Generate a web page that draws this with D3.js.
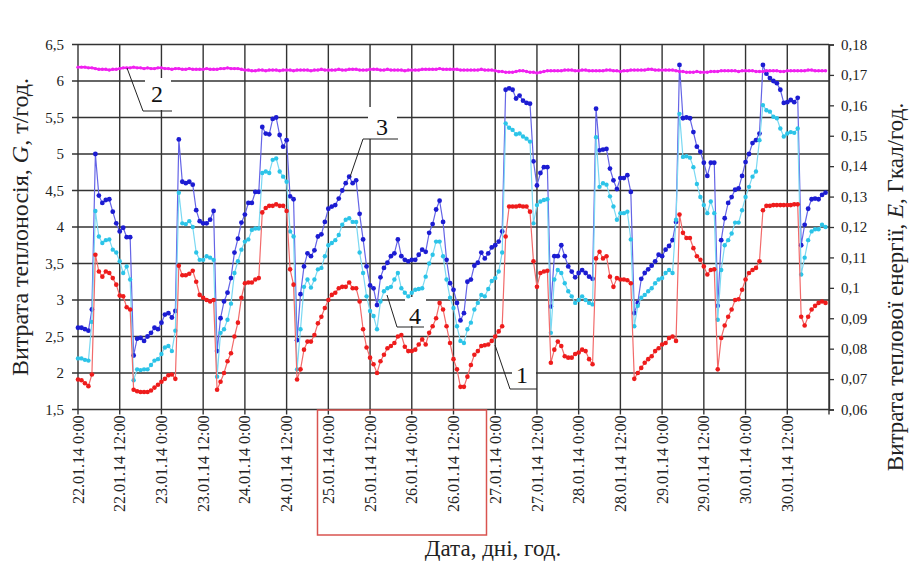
<!DOCTYPE html>
<html>
<head>
<meta charset="utf-8">
<script src="https://cdn.jsdelivr.net/npm/d3@7.9.0/dist/d3.min.js"></script>
<style>
  body { margin: 0; background: #fff; }
  svg text { font-family: "Liberation Serif", "DejaVu Serif", "Times New Roman", serif; }
</style>
</head>
<body>
<svg id="chart" width="909" height="562"></svg>
<script>
// hourly samples, 22.01.14 0:00 .. 30.01.14 23:00
const tickHours = d3.range(0, 205, 12);
const tickLabels = [
  '22.01.14 0:00', '22.01.14 12:00', '23.01.14 0:00', '23.01.14 12:00',
  '24.01.14 0:00', '24.01.14 12:00', '25.01.14 0:00', '25.01.14 12:00',
  '26.01.14 0:00', '26.01.14 12:00', '27.01.14 0:00', '27.01.14 12:00',
  '28.01.14 0:00', '28.01.14 12:00', '29.01.14 0:00', '29.01.14 12:00',
  '30.01.14 0:00', '30.01.14 12:00'
];
const leftTicks = [1.5, 2, 2.5, 3, 3.5, 4, 4.5, 5, 5.5, 6, 6.5];
const rightTicks = [0.06, 0.07, 0.08, 0.09, 0.1, 0.11, 0.12, 0.13, 0.14, 0.15, 0.16, 0.17, 0.18];

// 1 - red
const series1 = [
  1.91, 1.9, 1.86, 1.82, 1.98, 3.62, 3.39, 3.32, 3.39, 3.37,
  3.3, 3.21, 3.06, 3.05, 2.9, 2.87, 1.77, 1.75, 1.74, 1.74,
  1.74, 1.76, 1.8, 1.84, 1.88, 1.92, 1.97, 1.98, 1.92, 3.47,
  3.34, 3.34, 3.36, 3.4, 3.25, 3.07, 3.03, 3.0, 2.98, 3.0,
  1.77, 1.88, 2.0, 2.16, 2.27, 2.5, 2.69, 3.03, 3.23, 3.24,
  3.24, 3.28, 3.3, 4.2, 4.26, 4.29, 4.29, 4.31, 4.29, 4.29,
  4.22, 3.42, 3.21, 1.91, 2.05, 2.32, 2.43, 2.43, 2.52, 2.68,
  2.77, 2.89, 3.0, 3.07, 3.1, 3.16, 3.18, 3.18, 3.24, 3.16,
  3.16, 2.98, 2.6, 2.35, 2.21, 2.12, 2.0, 2.16, 2.25, 2.34,
  2.37, 2.41, 2.5, 2.52, 2.36, 2.3, 2.3, 2.32, 2.39, 2.46,
  2.39, 2.55, 2.64, 2.75, 2.96, 2.87, 2.64, 2.41, 2.19, 2.05,
  1.81, 1.81, 1.95, 2.11, 2.25, 2.3, 2.37, 2.38, 2.39, 2.44,
  2.5, 2.57, 2.64, 3.87, 4.28, 4.28, 4.28, 4.29, 4.28, 4.28,
  4.21, 3.53, 3.18, 3.37, 3.39, 3.4, 2.14, 2.32, 2.43, 2.37,
  2.23, 2.21, 2.21, 2.26, 2.28, 2.32, 2.3, 2.19, 2.12, 3.57,
  3.66, 3.57, 3.6, 3.32, 3.18, 3.3, 3.28, 3.28, 3.27, 3.23,
  1.92, 2.0, 2.07, 2.14, 2.19, 2.23, 2.3, 2.34, 2.39, 2.41,
  2.48, 2.5, 2.44, 4.17, 3.92, 3.85, 3.85, 3.71, 3.6, 3.55,
  3.46, 3.35, 3.41, 3.42, 2.05, 2.48, 2.65, 2.77, 2.87, 3.0,
  3.01, 3.14, 3.28, 3.37, 3.41, 3.44, 3.53, 4.23, 4.29, 4.29,
  4.3, 4.3, 4.3, 4.3, 4.3, 4.3, 4.31, 4.31, 2.77, 2.65,
  2.77, 2.87, 2.92, 2.96, 2.98, 2.96
];

// 2 - magenta
const series2 = [
  6.19, 6.19, 6.19, 6.18, 6.18, 6.17, 6.16, 6.16, 6.16, 6.15, 6.16, 6.16,
  6.17, 6.18, 6.18, 6.18, 6.19, 6.18, 6.18, 6.17, 6.18, 6.17, 6.17, 6.18,
  6.18, 6.17, 6.17, 6.16, 6.17, 6.17, 6.16, 6.16, 6.17, 6.16, 6.16, 6.16,
  6.16, 6.17, 6.16, 6.16, 6.16, 6.17, 6.17, 6.18, 6.17, 6.17, 6.17, 6.16,
  6.15, 6.15, 6.14, 6.14, 6.15, 6.15, 6.14, 6.15, 6.15, 6.15, 6.14, 6.15,
  6.15, 6.15, 6.14, 6.15, 6.15, 6.15, 6.15, 6.14, 6.15, 6.15, 6.16, 6.15,
  6.15, 6.15, 6.15, 6.16, 6.15, 6.15, 6.16, 6.16, 6.16, 6.15, 6.15, 6.15,
  6.16, 6.16, 6.16, 6.15, 6.15, 6.16, 6.15, 6.15, 6.15, 6.15, 6.14, 6.15,
  6.15, 6.15, 6.15, 6.16, 6.16, 6.16, 6.16, 6.16, 6.17, 6.16, 6.16, 6.16,
  6.16, 6.16, 6.15, 6.15, 6.15, 6.15, 6.15, 6.15, 6.16, 6.15, 6.15, 6.15,
  6.14, 6.13, 6.13, 6.12, 6.12, 6.12, 6.13, 6.14, 6.14, 6.13, 6.12, 6.12,
  6.11, 6.12, 6.13, 6.14, 6.14, 6.14, 6.14, 6.14, 6.15, 6.15, 6.15, 6.14,
  6.14, 6.15, 6.15, 6.14, 6.14, 6.14, 6.14, 6.14, 6.15, 6.15, 6.14, 6.14,
  6.13, 6.14, 6.14, 6.15, 6.15, 6.15, 6.15, 6.15, 6.16, 6.16, 6.15, 6.15,
  6.15, 6.15, 6.15, 6.15, 6.14, 6.13, 6.13, 6.12, 6.12, 6.12, 6.13, 6.12,
  6.12, 6.12, 6.13, 6.13, 6.13, 6.14, 6.14, 6.14, 6.14, 6.14, 6.13, 6.14,
  6.14, 6.14, 6.14, 6.13, 6.13, 6.13, 6.14, 6.14, 6.14, 6.14, 6.13, 6.13,
  6.14, 6.14, 6.14, 6.14, 6.14, 6.14, 6.15, 6.15, 6.14, 6.14, 6.14, 6.14
];

// 3 - dark blue
const series3 = [
  2.62, 2.62, 2.6, 2.58, 2.87, 5.0, 4.43, 4.33, 4.37, 4.38,
  4.21, 4.05, 3.94, 3.99, 3.86, 3.86, 2.24, 2.47, 2.48, 2.44,
  2.5, 2.55, 2.62, 2.6, 2.69, 2.8, 2.82, 2.76, 2.85, 5.2,
  4.62, 4.6, 4.62, 4.58, 4.23, 4.08, 4.05, 4.05, 4.1, 4.22,
  2.3, 2.75, 2.98, 3.1, 3.3, 3.65, 3.84, 4.06, 4.17, 4.33,
  4.33, 4.48, 4.48, 5.37, 5.28, 5.27, 5.48, 5.5, 5.26, 5.1,
  5.19, 4.42, 4.38, 2.45, 3.08, 3.46, 3.64, 3.6, 3.68, 3.87,
  3.9, 4.07, 4.25, 4.28, 4.3, 4.39, 4.5, 4.6, 4.69, 4.6,
  4.64, 4.18, 3.83, 3.46, 3.2, 3.16, 2.93, 3.31, 3.44, 3.51,
  3.6, 3.64, 3.83, 3.6, 3.55, 3.53, 3.55, 3.55, 3.62, 3.69,
  3.66, 3.92, 4.04, 4.24, 4.36, 4.07, 3.55, 3.23, 3.14, 2.96,
  2.72, 2.82, 3.25, 3.28, 3.47, 3.51, 3.65, 3.57, 3.64, 3.72,
  3.75, 3.8, 3.94, 5.88, 5.9, 5.88, 5.76, 5.8, 5.73, 5.7,
  5.69, 4.9, 4.57, 4.74, 4.82, 4.82, 2.91, 3.6, 3.6, 3.75,
  3.6, 3.46, 3.39, 3.31, 3.37, 3.41, 3.37, 3.32, 3.29, 5.62,
  5.05, 5.06, 5.07, 4.8, 4.64, 4.52, 4.67, 4.67, 4.71, 4.48,
  2.82, 2.96, 3.29, 3.37, 3.42, 3.47, 3.53, 3.62, 3.6, 3.69,
  3.74, 3.82, 4.07, 6.22, 5.49, 5.5, 5.49, 5.3, 5.1, 5.03,
  4.88, 4.7, 4.88, 4.88, 2.92, 3.82, 4.12, 4.33, 4.41, 4.51,
  4.53, 4.7, 4.89, 5.0, 5.15, 5.19, 5.28, 6.22, 6.1, 6.04,
  6.0, 5.97, 5.88, 5.7, 5.71, 5.74, 5.71, 5.77, 3.75, 4.03,
  4.25, 4.38, 4.39, 4.38, 4.44, 4.47
];

// 4 - cyan
const series4 = [
  2.2, 2.2, 2.18, 2.17, 2.7, 4.22, 3.87, 3.78, 3.82, 3.83,
  3.69, 3.65, 3.53, 3.37, 3.46, 3.28, 1.9, 2.05, 2.04, 2.05,
  2.05, 2.11, 2.17, 2.19, 2.26, 2.35, 2.37, 2.3, 2.58, 4.47,
  4.05, 4.04, 4.08, 4.0, 3.65, 3.55, 3.55, 3.6, 3.58, 3.55,
  1.95, 2.55, 2.6, 2.73, 2.95, 3.37, 3.53, 3.69, 3.8, 3.83,
  3.96, 3.98, 3.98, 4.74, 4.76, 4.74, 4.92, 4.94, 4.76, 4.69,
  4.62, 3.94, 3.87, 2.05, 2.6, 3.18, 3.28, 3.17, 3.28, 3.42,
  3.44, 3.6, 3.75, 3.78, 3.82, 3.89, 4.03, 4.1, 4.12, 4.07,
  4.07, 3.65, 3.37, 3.05, 2.85, 2.78, 2.6, 2.98, 3.12, 3.16,
  3.18, 3.28, 3.37, 3.16, 3.1, 3.05, 3.1, 3.14, 3.15, 3.16,
  3.32, 3.5, 3.62, 3.8, 3.8, 3.6, 3.28, 3.03, 2.89, 2.64,
  2.44, 2.41, 2.6, 2.69, 2.87, 2.96, 3.07, 3.05, 3.15, 3.26,
  3.3, 3.39, 3.65, 5.42, 5.36, 5.33, 5.27, 5.28, 5.24, 5.21,
  5.17, 4.05, 4.3, 4.35, 4.37, 4.38, 2.55, 3.28, 3.41, 3.37,
  3.23, 3.12, 3.05, 2.96, 3.0, 3.05, 3.0, 2.96, 2.94, 5.23,
  4.55, 4.6, 4.58, 4.42, 4.28, 4.1, 4.19, 4.19, 4.21, 3.83,
  2.64, 2.92, 3.03, 3.07, 3.12, 3.16, 3.23, 3.28, 3.3, 3.37,
  3.41, 3.37, 4.1, 5.55, 4.96, 4.97, 4.95, 4.82, 4.59, 4.41,
  4.3, 4.19, 4.35, 4.19, 2.73, 3.41, 3.75, 3.82, 3.91, 4.06,
  4.06, 4.23, 4.41, 4.55, 4.69, 4.76, 5.19, 5.67, 5.6, 5.58,
  5.51, 5.49, 5.35, 5.24, 5.28, 5.3, 5.29, 5.35, 3.35, 3.58,
  3.82, 3.94, 3.97, 3.97, 4.03, 4.0
];

const svg = d3.select('#chart');
const plotLeft = 78, plotRight = 829, plotTop = 44.5, plotBottom = 409.5;

const x = d3.scaleLinear().domain([0, 216]).range([plotLeft, plotRight]);
const y = d3.scaleLinear().domain([1.5, 6.5]).range([plotBottom, plotTop]);
const yR = d3.scaleLinear().domain([0.06, 0.18]).range([plotBottom, plotTop]);

const comma = d => String(+d.toFixed(2)).replace('.', ',');

// grid
const grid = svg.append('g').attr('stroke', '#333').attr('stroke-width', 1.4);
grid.selectAll('.hg').data(leftTicks).join('line')
  .attr('x1', plotLeft - 6).attr('x2', plotRight)
  .attr('y1', d => y(d)).attr('y2', d => y(d));
grid.selectAll('.vg').data(tickHours.concat([216])).join('line')
  .attr('x1', d => x(d)).attr('x2', d => x(d))
  .attr('y1', plotTop).attr('y2', plotBottom + 5);

// right axis
const rAxis = svg.append('g')
  .attr('transform', `translate(${plotRight},0)`)
  .call(d3.axisRight(yR).tickValues(rightTicks).tickSize(5).tickFormat(comma));
rAxis.select('.domain').attr('stroke', '#333').attr('stroke-width', 1.4);
rAxis.selectAll('.tick line').attr('stroke', '#333').attr('stroke-width', 1.3);
rAxis.selectAll('text').attr('x', 12).attr('font-size', 15)
  .attr('font-family', null).attr('fill', '#222');

// left labels
svg.append('g').selectAll('text').data(leftTicks).join('text')
  .attr('x', 64).attr('y', d => y(d)).attr('dy', '0.35em')
  .attr('text-anchor', 'end').attr('font-size', 15).attr('fill', '#222')
  .text(comma);

// x labels
svg.append('g').selectAll('text').data(tickHours).join('text')
  .attr('transform', d => `translate(${x(d)},${plotBottom + 6}) rotate(-90)`)
  .attr('dy', '0.35em').attr('text-anchor', 'end')
  .attr('font-size', 16).attr('fill', '#222')
  .text((d, i) => tickLabels[i]);

// highlight box on x labels
svg.append('rect')
  .attr('x', 317.5).attr('y', 410).attr('width', 169).attr('height', 125)
  .attr('fill', 'none').attr('stroke', '#d9534f').attr('stroke-width', 1.5);

// titles
svg.append('text')
  .attr('transform', 'translate(28,227) rotate(-90)')
  .attr('text-anchor', 'middle').attr('font-size', 24).attr('fill', '#222')
  .html('Витрата теплоносія, <tspan font-style="italic">G</tspan>, т/год.');
svg.append('text')
  .attr('transform', 'translate(903,287) rotate(-90)')
  .attr('text-anchor', 'middle').attr('font-size', 23).attr('fill', '#222')
  .html('Витрата теплової енергії, <tspan font-style="italic">E</tspan>, Гкал/год.');
svg.append('text')
  .attr('x', 493).attr('y', 556)
  .attr('text-anchor', 'middle').attr('font-size', 23).attr('fill', '#222')
  .text('Дата, дні, год.');

// white boxes behind curve labels
const labelBoxes = [[145, 78, 26, 32], [368, 107, 29, 32], [405, 297, 21, 29], [512, 358, 24, 31]];
svg.append('g').selectAll('rect').data(labelBoxes).join('rect')
  .attr('x', d => d[0]).attr('y', d => d[1]).attr('width', d => d[2]).attr('height', d => d[3])
  .attr('fill', '#fff');

// series
const line = d3.line().x((d, i) => x(i)).y(d => y(d));
const drawSeries = (data, lineColor, dotColor, lw, r) => {
  const g = svg.append('g');
  g.append('path').datum(data).attr('d', line)
    .attr('fill', 'none').attr('stroke', lineColor).attr('stroke-width', lw);
  g.selectAll('circle').data(data).join('circle')
    .attr('cx', (d, i) => x(i)).attr('cy', d => y(d)).attr('r', r)
    .attr('fill', dotColor);
};
drawSeries(series3, '#6464e6', '#1c1cd2', 1.2, 2.4);
drawSeries(series4, '#7ad8f2', '#2cc4e8', 1.2, 2.2);
drawSeries(series1, '#f26a6a', '#ee1c1c', 1.2, 2.3);
drawSeries(series2, '#ee22ee', '#f020f0', 2.2, 1.7);

// leader lines + numbers
const leaders = [
  [[127, 68], [143, 111], [172, 111]],
  [[350, 177], [363, 139], [398, 139]],
  [[387, 295], [397, 327], [424, 327]],
  [[495, 345], [510, 389], [537, 389]]
];
svg.append('g').selectAll('path').data(leaders).join('path')
  .attr('d', d => d3.line()(d))
  .attr('fill', 'none').attr('stroke', '#222').attr('stroke-width', 1);
const numbers = [['2', 157, 102], ['3', 382, 135], ['4', 415, 324], ['1', 522, 383]];
svg.append('g').selectAll('text').data(numbers).join('text')
  .attr('x', d => d[1]).attr('y', d => d[2])
  .attr('text-anchor', 'middle').attr('font-size', 24).attr('fill', '#111')
  .text(d => d[0]);
</script>
</body>
</html>
